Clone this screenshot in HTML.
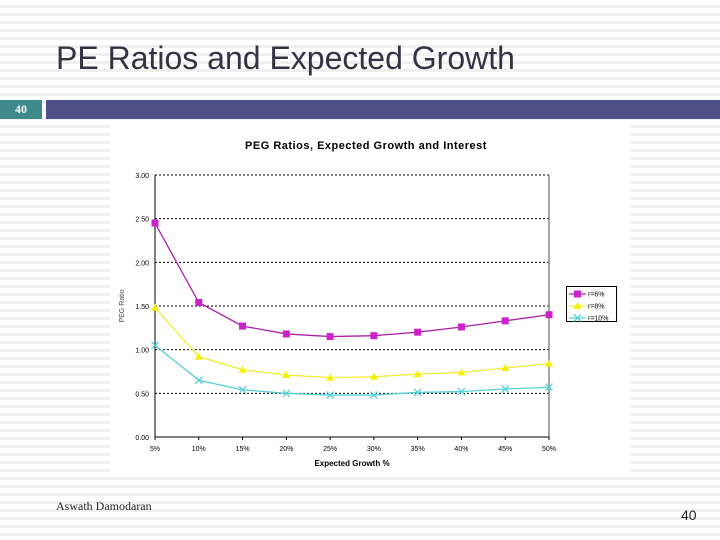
<!DOCTYPE html>
<html><head><meta charset="utf-8"><style>
html,body{margin:0;padding:0}
body{width:720px;height:540px;position:relative;overflow:hidden;font-family:"Liberation Sans",sans-serif;
background:repeating-linear-gradient(to bottom,#fff 0px,#fff 5px,#efefef 5px,#efefef 8px);}
#title{position:absolute;left:56px;top:40px;font-size:32px;color:#333344;}
#num{position:absolute;left:0;top:100px;width:42px;height:19px;background:#3e8a8a;color:#fff;font-family:"Liberation Serif",serif;font-weight:bold;font-size:12px;text-align:center;line-height:19px}
#bar{position:absolute;left:46px;top:100px;width:674px;height:19px;background:#4f5088}
#chart{position:absolute;left:110px;top:125px;width:520px;height:350px;background:#fff}
#author{position:absolute;left:56px;top:499px;font-family:"Liberation Serif",serif;font-size:12px;color:#222}
#page{position:absolute;left:681px;top:507px;font-size:14px;color:#222}
</style></head><body>
<div id="title">PE Ratios and Expected Growth</div>
<div id="num">40</div>
<div id="bar"></div>
<div id="chart"><svg id="svg" width="520" height="350"></svg></div>
<div id="author">Aswath Damodaran</div>
<div id="page">40</div>
<script>
const categories=["5%","10%","15%","20%","25%","30%","35%","40%","45%","50%"];
const r6=[2.45,1.54,1.27,1.18,1.15,1.16,1.20,1.26,1.33,1.40];
const r8=[1.48,0.92,0.77,0.71,0.68,0.69,0.72,0.74,0.79,0.84];
const r10=[1.05,0.65,0.54,0.50,0.48,0.48,0.51,0.52,0.55,0.57];
const yTicks=[0,0.5,1,1.5,2,2.5,3];
const yTickLabels=["0.00","0.50","1.00","1.50","2.00","2.50","3.00"];
const seriesNames=["r=6%","r=8%","r=10%"];
const ns="http://www.w3.org/2000/svg";
const svg=document.getElementById('svg');
const X0=45,X1=439,Y0=312,Y1=50;
function xs(i){return X0+(X1-X0)*i/(categories.length-1);}
function ys(v){return Y0-(Y0-Y1)*v/3;}
function mk(t,a,p){const e=document.createElementNS(ns,t);for(const k in a)e.setAttribute(k,a[k]);(p||svg).appendChild(e);return e;}
let e;
e=mk('text',{x:256,y:24,'text-anchor':'middle','font-size':11,'font-weight':'bold',fill:'#000','letter-spacing':'0.5'});e.textContent="PEG Ratios, Expected Growth and Interest";


yTicks.forEach((v,i)=>{
 if(v>0){const g=mk('line',{x1:X0,x2:X1,y1:ys(v),y2:ys(v),stroke:'#000','stroke-dasharray':'2,2','stroke-width':1});
 
 }
 const t=mk('text',{x:X0-6,y:ys(v)+3,'text-anchor':'end','font-size':7,fill:'#000'});t.textContent=yTickLabels[i];
 
 
});
e=mk('line',{x1:X0,x2:X0,y1:Y1,y2:Y0,stroke:'#000','stroke-width':1});


e=mk('line',{x1:X1,x2:X1,y1:Y1,y2:Y0,stroke:'#888','stroke-width':1.5});


e=mk('line',{x1:X0,x2:X1,y1:Y0,y2:Y0,stroke:'#000','stroke-width':1});


categories.forEach((c,i)=>{
 const k=mk('line',{x1:xs(i),x2:xs(i),y1:Y0,y2:Y0+3,stroke:'#000'});
 
 
 const t=mk('text',{x:xs(i),y:Y0+14,'text-anchor':'middle','font-size':7,fill:'#000'});t.textContent=c;
 
 
});
e=mk('text',{x:242,y:341,'text-anchor':'middle','font-size':8,'font-weight':'bold',fill:'#000'});e.textContent="Expected Growth %";


e=mk('text',{x:14,y:181,'text-anchor':'middle','font-size':7,fill:'#444',transform:'rotate(-90 14 181)'});e.textContent="PEG Ratio";


const colors=['#cc22cc','#f5f000','#55d0d8'];
const lineCols=['#aa22aa','#f0ec30','#55d0d8'];
function marker(kind,x,y,col,p){
 if(kind===0)return mk('rect',{x:x-3.5,y:y-3.5,width:7,height:7,fill:col},p);
 if(kind===1)return mk('polygon',{points:`${x},${y-4} ${x+4},${y+3} ${x-4},${y+3}`,fill:col},p);
 return mk('path',{d:`M${x-3.5},${y-3.5}L${x+3.5},${y+3.5}M${x+3.5},${y-3.5}L${x-3.5},${y+3.5}`,stroke:col,'stroke-width':1.3,fill:'none'},p);
}
[r6,r8,r10].forEach((s,si)=>{
 const g=mk('g',{});
 
 
 const pl=mk('polyline',{points:s.map((v,i)=>xs(i)+','+ys(v)).join(' '),fill:'none',stroke:lineCols[si],'stroke-width':1.3},g);
 
 
 s.forEach((v,i)=>{const m=marker(si,xs(i),ys(v),colors[si],g);
  
  });
});
const lg=mk('g',{});


mk('rect',{x:456.5,y:161.5,width:50,height:35,fill:'#fff',stroke:'#000'},lg);
seriesNames.forEach((n,i)=>{
 const y=169+i*12;
 const it=mk('g',{},lg);
 
 
 mk('line',{x1:459,x2:476,y1:y,y2:y,stroke:lineCols[i],'stroke-width':1.3},it);
 marker(i,467.5,y,colors[i],it);
 const t=mk('text',{x:478,y:y+2.5,'font-size':7,fill:'#000'},it);t.textContent=n;
});
</script>
</body></html>
